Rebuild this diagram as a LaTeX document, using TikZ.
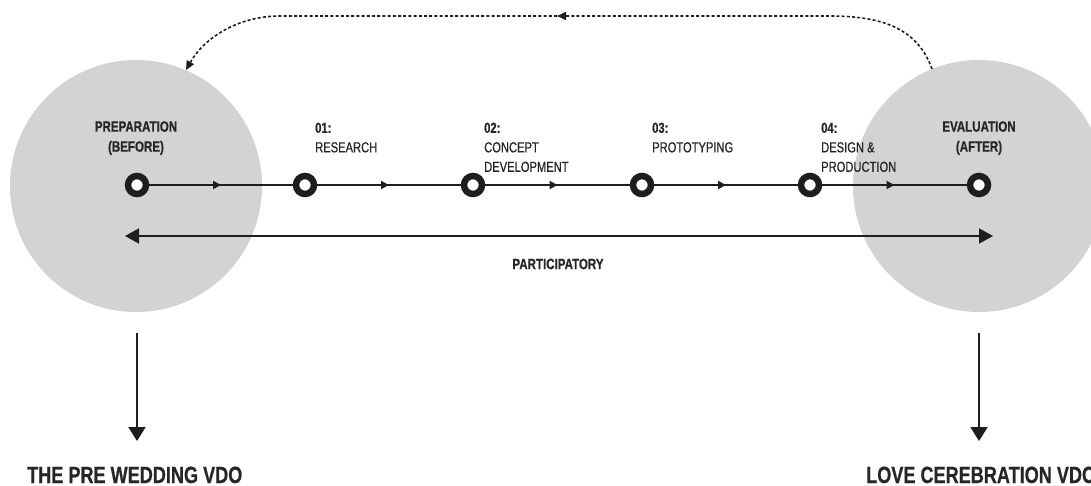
\documentclass[tikz,border=0pt]{standalone}
\usepackage{fontspec}
\setmainfont{Liberation Sans}[FakeStretch=0.77,
  UprightFeatures={FakeBold=0.7},BoldFeatures={FakeBold=0.6}]
\usetikzlibrary{arrows.meta,decorations.markings}
\definecolor{ink}{RGB}{30,30,30}
\definecolor{txt}{RGB}{38,38,38}
\definecolor{disc}{RGB}{211,211,211}
\begin{document}
\begin{tikzpicture}[x=1pt,y=-1pt,
  disc/.style={circle,fill=disc,minimum size=252pt,inner sep=0pt},
  ring/.style={circle,draw=ink,line width=6.5pt,fill=white,minimum size=18pt,inner sep=0pt},
  flow/.style={draw=ink,line width=2pt,
    postaction={decorate,decoration={markings,
      mark=at position 0.5 with {\arrow{Triangle[length=8pt,width=8pt]}}}}},
  both/.style={draw=ink,line width=1.8pt,
    {Triangle[length=14pt,width=15pt]}-{Triangle[length=14pt,width=15pt]}},
  down/.style={draw=ink,line width=2pt,-{Triangle[length=14pt,width=17pt]}},
  backline/.style={draw=ink,line width=1.6pt,dash pattern=on 3pt off 2.2pt,
    -{Triangle[length=9pt,width=8pt]}},
  steplabel/.style={anchor=north west,inner sep=0pt,align=left,text=txt,
    font=\fontsize{14.5}{19.5}\selectfont},
  phase/.style={anchor=north,inner sep=0pt,align=center,text=txt,
    font=\fontsize{15}{20}\selectfont\bfseries},
  outcome/.style={anchor=base west,inner sep=0pt,text=txt,
    font=\fontsize{23.5}{28}\selectfont\bfseries}]
\useasboundingbox (0,0) rectangle (1091,486);
\clip (0,0) rectangle (1091,486);

% before / after discs
\node[disc] (L) at (136,186) {};
\node[disc] (R) at (979,186) {};

% feedback loop from evaluation back to preparation
\coordinate (fbstart) at (932,69);
\coordinate (fbmid) at (557,16);
\coordinate (fbend) at (186,70);
\draw[backline] (fbstart) .. controls (918,30) and (885,16) .. (830,16) -- (fbmid);
\draw[backline] (fbmid) -- (280,16) .. controls (238,16) and (204,38) .. (fbend);

% process steps
\node[ring] (r0) at (137,185) {};
\node[ring] (r1) at (305,185) {};
\node[ring] (r2) at (473,185) {};
\node[ring] (r3) at (642,185) {};
\node[ring] (r4) at (810,185) {};
\node[ring] (r5) at (979,185) {};
\foreach \a/\b in {r0/r1,r1/r2,r2/r3,r3/r4,r4/r5}
  \draw[flow] (\a) -- (\b);

% participatory span
\coordinate (pl) at (125,236);
\coordinate (pr) at (993,236);
\draw[both] (pl) -- (pr);
\node[phase,anchor=center] (part) at (558,264) {PARTICIPATORY};

% labels
\node[phase] (prep) at (136,121) {PREPARATION\\(BEFORE)};
\node[phase] (eval) at (979,121) {EVALUATION\\(AFTER)};
\node[steplabel] (s1) at (315,122.5) {\textbf{01:}\\RESEARCH};
\node[steplabel] (s2) at (484,122.5) {\textbf{02:}\\CONCEPT\\DEVELOPMENT};
\node[steplabel] (s3) at (652,122.5) {\textbf{03:}\\PROTOTYPING};
\node[steplabel] (s4) at (821,122.5) {\textbf{04:}\\DESIGN \&\\PRODUCTION};

% outcomes
\coordinate (dl) at (137,333);
\coordinate (dr) at (979,333);
\coordinate (tl) at (137,441);
\coordinate (tr) at (979,441);
\draw[down] (dl) -- (tl);
\draw[down] (dr) -- (tr);
\node[outcome] (o1) at (27,483) {THE PRE WEDDING VDO};
\node[outcome] (o2) at (866,483) {LOVE CEREBRATION VDO};
\end{tikzpicture}
\end{document}
